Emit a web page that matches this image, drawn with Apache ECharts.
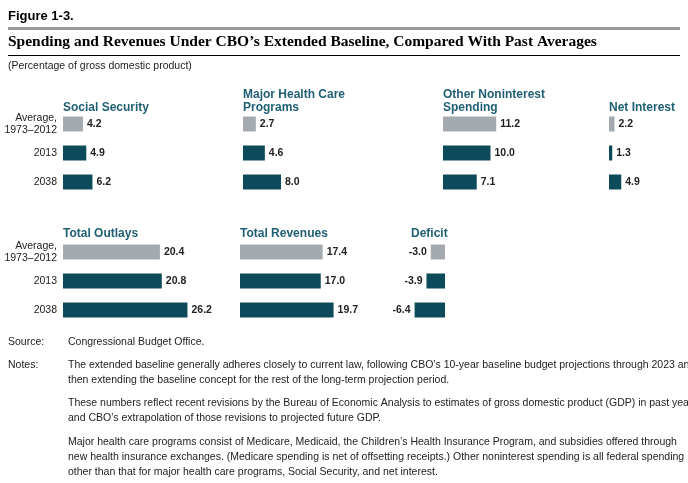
<!DOCTYPE html><html><head><meta charset="utf-8">
<script src="https://cdn.jsdelivr.net/npm/echarts@6/dist/echarts.min.js"></script>
<style>html,body{margin:0;background:#fff}#c{width:688px;height:483px}</style></head><body><div id="c"></div>
<script>
const rowLabels = ['Average,\n1973–2012', '2013', '2038'];
const panelTitles = ['Social Security', 'Major Health Care\nPrograms', 'Other Noninterest\nSpending', 'Net Interest', 'Total Outlays', 'Total Revenues', 'Deficit'];
const socialSecurity = [4.2, 4.9, 6.2];
const healthCare = [2.7, 4.6, 8.0];
const otherNoninterest = [11.2, 10.0, 7.1];
const netInterest = [2.2, 1.3, 4.9];
const totalOutlays = [20.4, 20.8, 26.2];
const totalRevenues = [17.4, 17.0, 19.7];
const deficit = [-3.0, -3.9, -6.4];

const PX = 4.75, GREY = '#a4aab0', TEAL = '#0d4a5a', TITLE = '#1f5f74';
const panels = [
  {d: socialSecurity, x: 63, top: 109.5, tx: 63, ty: 101, lab: true},
  {d: healthCare, x: 243, top: 109.5, tx: 243, ty: 88},
  {d: otherNoninterest, x: 443, top: 109.5, tx: 443, ty: 88},
  {d: netInterest, x: 609, top: 109.5, tx: 609, ty: 101},
  {d: totalOutlays, x: 63, top: 237.5, tx: 63, ty: 227, lab: true},
  {d: totalRevenues, x: 240, top: 237.5, tx: 240, ty: 227},
  {d: deficit, x: 445, top: 237.5, tx: 411, ty: 227, neg: true}
];
const grid = [], xAxis = [], yAxis = [], series = [], graphic = [];
panels.forEach((p, i) => {
  const W = 150;
  if (p.neg) grid.push({left: p.x - W, width: W, top: p.top, height: 87});
  else grid.push({left: p.x, width: W, top: p.top, height: 87});
  xAxis.push({gridIndex: i, type: 'value', min: p.neg ? -W / PX : 0, max: p.neg ? 0 : W / PX, show: false});
  yAxis.push({gridIndex: i, type: 'category', data: rowLabels, inverse: true,
    axisLine: {show: false}, axisTick: {show: false}, splitLine: {show: false},
    axisLabel: {show: !!p.lab, margin: 6, color: '#222', fontSize: 10.5, lineHeight: 12, fontFamily: 'Liberation Sans Narrow, Liberation Sans, sans-serif', align: 'right'}});
  series.push({type: 'bar', xAxisIndex: i, yAxisIndex: i, barWidth: 15, animation: false,
    data: p.d.map((v, j) => ({value: v, itemStyle: {color: j === 0 ? GREY : TEAL}})),
    label: {show: true, position: p.neg ? 'left' : 'right', distance: 4, color: '#222', fontSize: 10.5, fontWeight: 'bold', fontFamily: 'Liberation Sans, sans-serif',
      formatter: o => o.value.toFixed(1)}});
  graphic.push({type: 'text', left: p.tx, top: p.ty, style: {text: panelTitles[i], fill: TITLE, font: 'bold 12px Liberation Sans, sans-serif', lineHeight: 13}});
});
const F = '10.5px Liberation Sans Narrow, Liberation Sans, sans-serif';
const t = (x, y, s, font, fill) => graphic.push({type: 'text', left: x, top: y, style: {text: s, font: font || F, fill: fill || '#222'}});
t(8, 10, 'Figure 1-3.', 'bold 13px Liberation Sans, sans-serif', '#000');
graphic.push({type: 'rect', shape: {x: 8, y: 27, width: 672, height: 3}, style: {fill: '#9a9a9a'}});
t(8, 34, 'Spending and Revenues Under CBO’s Extended Baseline, Compared With Past Averages', 'bold 15.5px Liberation Serif, serif', '#000');
graphic.push({type: 'rect', shape: {x: 8, y: 55, width: 672, height: 1}, style: {fill: '#000'}});
t(8, 61, '(Percentage of gross domestic product)');
t(8, 337, 'Source:'); t(68, 337, 'Congressional Budget Office.');
t(8, 360, 'Notes:');
const notes = [
  [360, 'The extended baseline generally adheres closely to current law, following CBO’s 10-year baseline budget projections through 2023 and'],
  [375, 'then extending the baseline concept for the rest of the long-term projection period.'],
  [398, 'These numbers reflect recent revisions by the Bureau of Economic Analysis to estimates of gross domestic product (GDP) in past years'],
  [413, 'and CBO’s extrapolation of those revisions to projected future GDP.'],
  [437, 'Major health care programs consist of Medicare, Medicaid, the Children’s Health Insurance Program, and subsidies offered through'],
  [452, 'new health insurance exchanges. (Medicare spending is net of offsetting receipts.) Other noninterest spending is all federal spending'],
  [467, 'other than that for major health care programs, Social Security, and net interest.']
];
notes.forEach(n => t(68, n[0], n[1]));
const chart = echarts.init(document.getElementById('c'));
chart.setOption({animation: false, grid, xAxis, yAxis, series, graphic});
</script></body></html>
